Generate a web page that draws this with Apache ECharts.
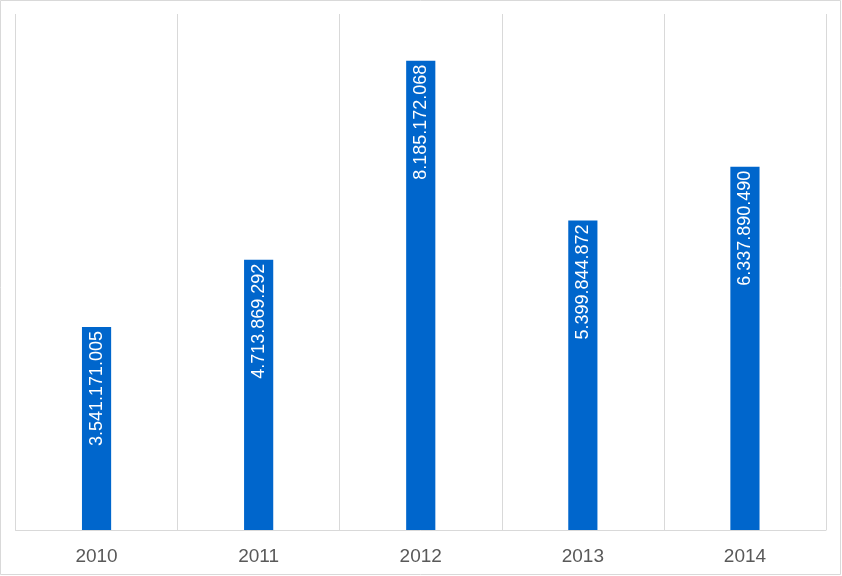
<!DOCTYPE html>
<html><head><meta charset="utf-8">
<script src="https://cdn.jsdelivr.net/npm/echarts@6/dist/echarts.min.js"></script>
<style>html,body{margin:0;padding:0;background:#fff}#c{width:842px;height:576px}</style>
</head><body><div id="c"></div>
<script>
const categories = ['2010','2011','2012','2013','2014'];
const values = [3541171005, 4713869292, 8185172068, 5399844872, 6337890490];
function fmt(v){return String(v).replace(/\B(?=(\d{3})+(?!\d))/g,'.');}
const chart = echarts.init(document.getElementById('c'));
chart.setOption({
  animation:false,
  backgroundColor:'#fff',
  graphic:[{type:'rect',shape:{x:0.5,y:0.5,width:840,height:574},style:{fill:'none',stroke:'#d9d9d9',lineWidth:1},silent:true}],
  grid:{left:15.5,right:16,top:14,bottom:46,containLabel:false},
  xAxis:{type:'category',data:categories,boundaryGap:true,
    axisLine:{lineStyle:{color:'#d9d9d9',width:1}},axisTick:{show:false},
    splitLine:{show:true,lineStyle:{color:'#d9d9d9',width:1}},
    axisLabel:{color:'#595959',fontFamily:'Liberation Sans',fontSize:19,margin:17}},
  yAxis:{type:'value',min:0,max:9000000000,show:false,splitLine:{show:false}},
  series:[{type:'bar',data:values,barWidth:'18%',itemStyle:{color:'#0066CC'},
    label:{show:true,position:'insideTop',rotate:90,align:'right',verticalAlign:'middle',distance:4,
      color:'#fff',fontFamily:'Liberation Sans',fontSize:18,formatter:p=>fmt(p.value)}}]
});
</script></body></html>
